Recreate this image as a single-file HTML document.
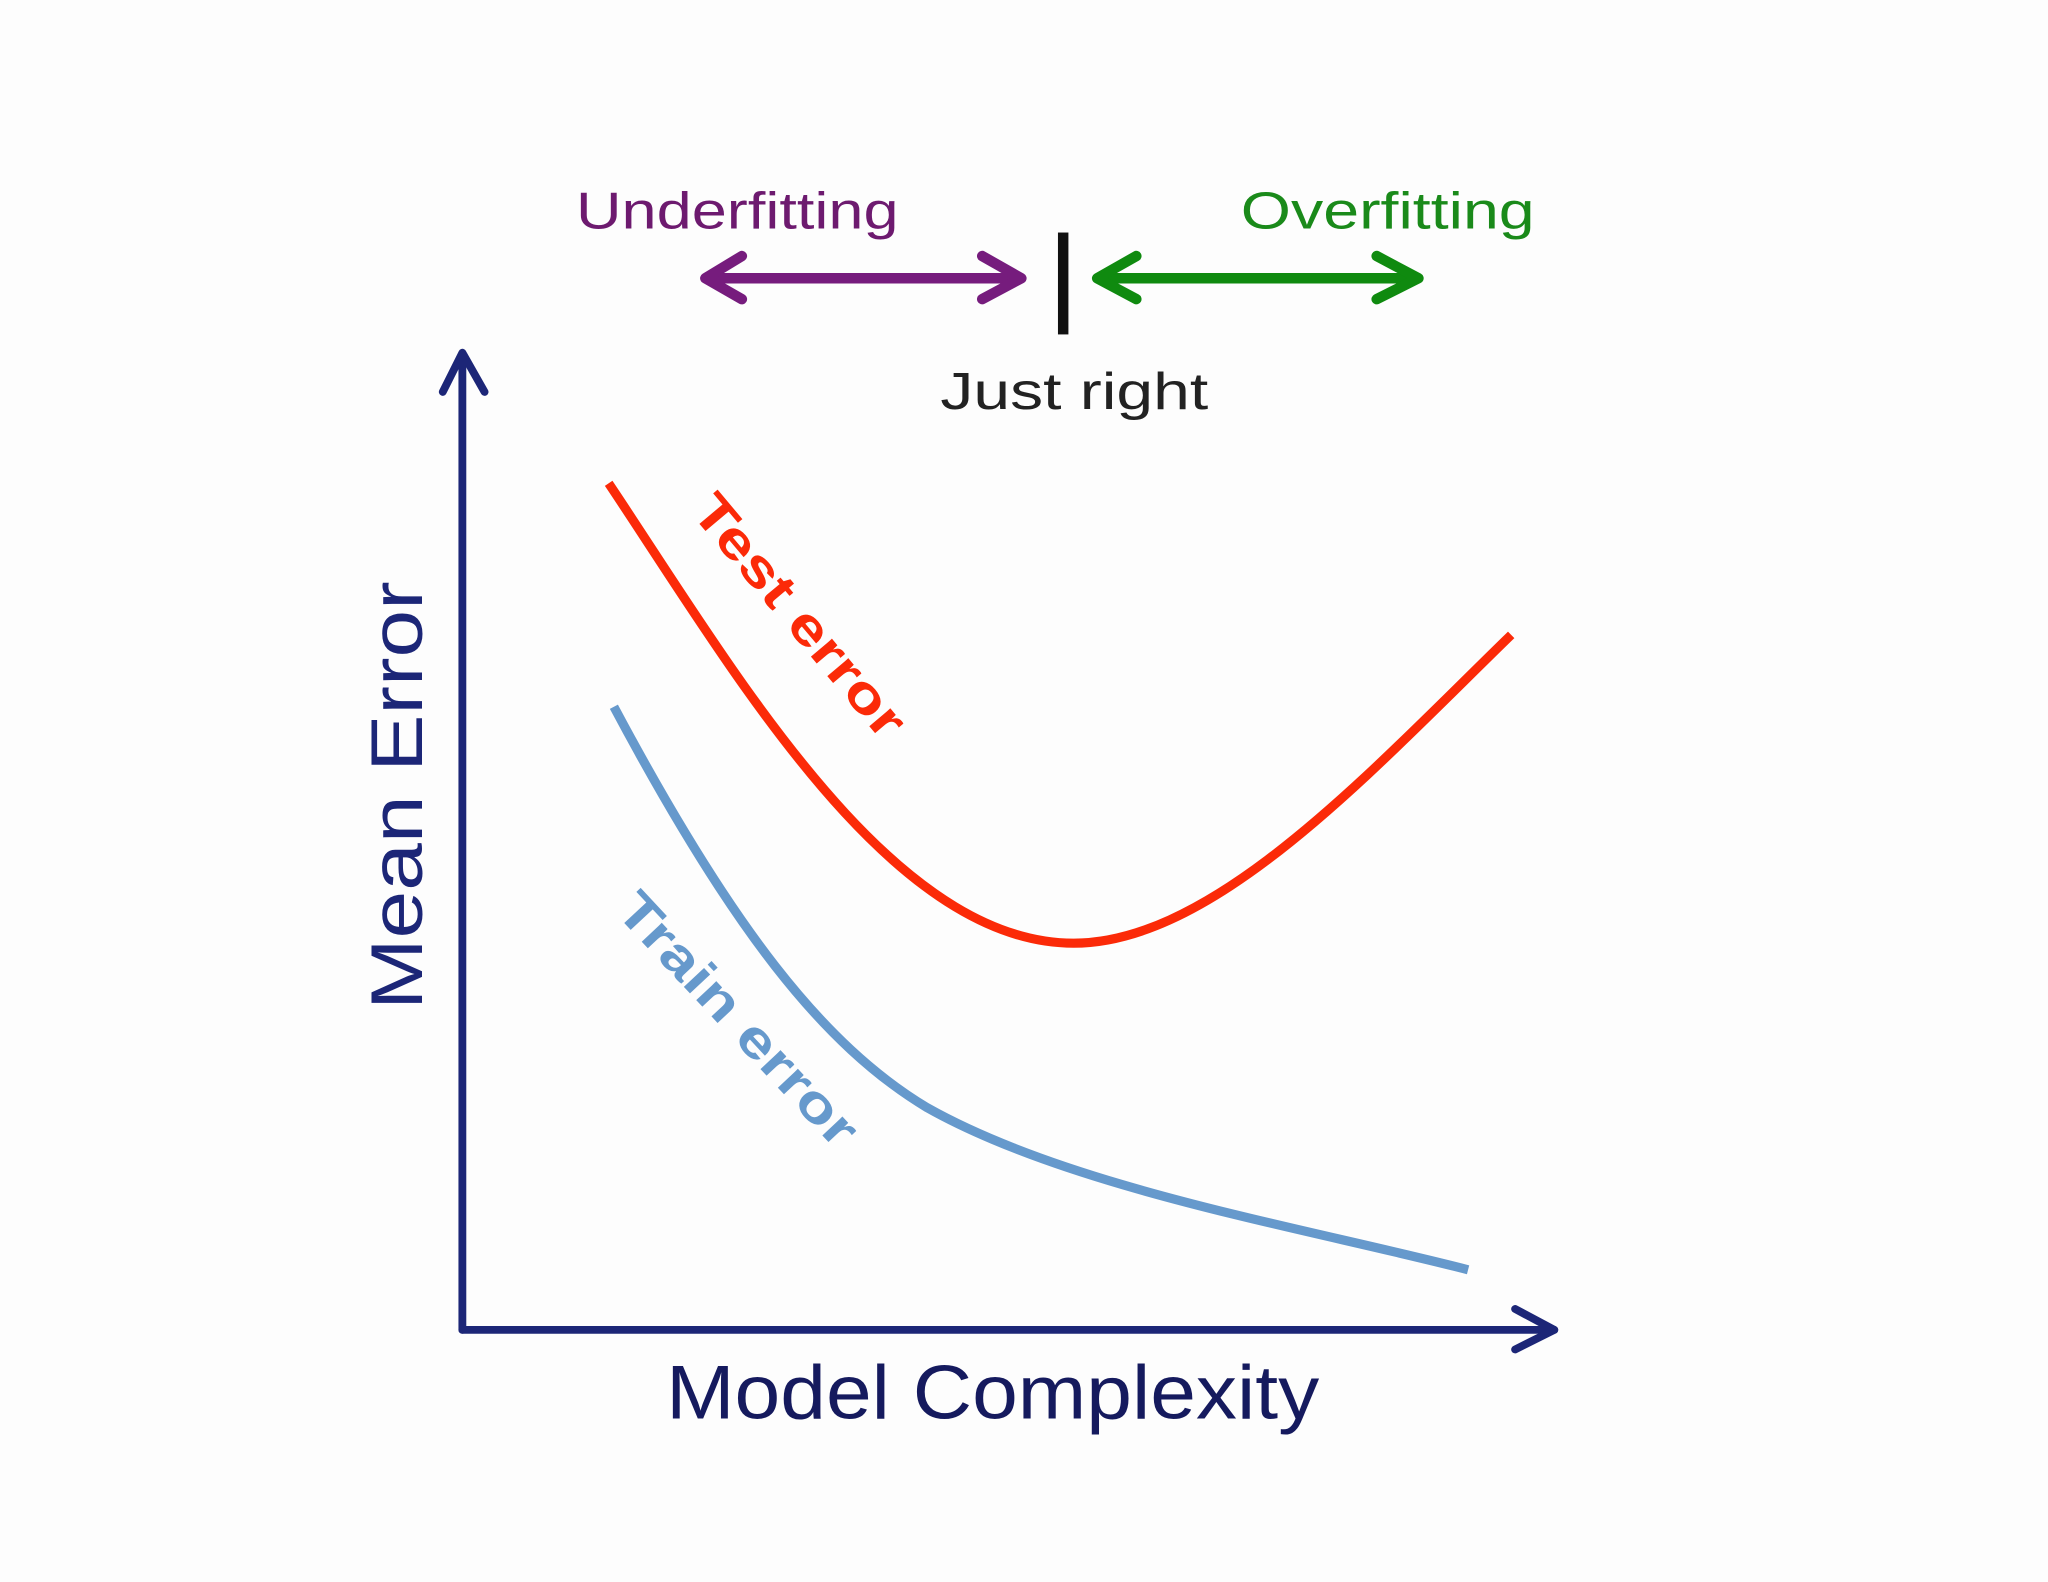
<!DOCTYPE html>
<html><head><meta charset="utf-8">
<style>
html,body{margin:0;padding:0;background:#fdfdfd;}
svg{display:block;}
text{font-family:"Liberation Sans",sans-serif;}
</style></head>
<body>
<svg width="2048" height="1582" viewBox="0 0 1568 1211" preserveAspectRatio="none" xmlns="http://www.w3.org/2000/svg">
<rect width="1568" height="1211" fill="#fdfdfd"/>
<!-- axes -->
<g stroke="#1c2677" stroke-width="6" fill="none" stroke-linecap="round" stroke-linejoin="round">
<path d="M354,1018 V272"/>
<path d="M339,300 L354,270 L371,300"/>
<path d="M354,1018 H1190"/>
<path d="M1160,1002 L1190,1018 L1160,1033"/>
</g>
<!-- curves -->
<path d="M466,370 C 560,510 680,722 822,722 C 930,722 1050,590 1157,486" stroke="#fb2a08" stroke-width="7" fill="none"/>
<path d="M470,541 C 560,710 630,800 710,848 C 820,910 1000,940 1124,972" stroke="#6699cc" stroke-width="7" fill="none"/>
<!-- top arrows -->
<g stroke="#761c7d" stroke-width="8" fill="none" stroke-linecap="round" stroke-linejoin="round">
<path d="M542,213 H780"/>
<path d="M568,196 L540,213 L568,229"/>
<path d="M752,196 L782,213 L752,229"/>
</g>
<g stroke="#0f8a0f" stroke-width="8" fill="none" stroke-linecap="round" stroke-linejoin="round">
<path d="M842,213 H1084"/>
<path d="M870,196 L840,213 L870,229"/>
<path d="M1054,196 L1086,213 L1054,229"/>
</g>
<rect x="810" y="178" width="8" height="78" fill="#111"/>
<!-- labels -->
<text x="441" y="175" font-size="40" fill="#6d1a6f" textLength="247" lengthAdjust="spacingAndGlyphs">Underfitting</text>
<text x="950" y="175" font-size="40" fill="#1a8a1a" textLength="225" lengthAdjust="spacingAndGlyphs">Overfitting</text>
<text x="720" y="313" font-size="40" fill="#222" textLength="205" lengthAdjust="spacingAndGlyphs">Just right</text>
<text transform="translate(528,392) rotate(50)" font-size="40" font-weight="bold" fill="#fb2a08" textLength="230" lengthAdjust="spacingAndGlyphs">Test error</text>
<text transform="translate(470,698) rotate(47)" font-size="40" font-weight="bold" fill="#6699cc" textLength="250" lengthAdjust="spacingAndGlyphs">Train error</text>
<text transform="translate(323,773) rotate(-90)" font-size="56" fill="#1c2677" textLength="328" lengthAdjust="spacingAndGlyphs">Mean Error</text>
<text x="510" y="1086" font-size="58" fill="#151a5e" textLength="500" lengthAdjust="spacingAndGlyphs">Model Complexity</text>
</svg>
</body></html>
